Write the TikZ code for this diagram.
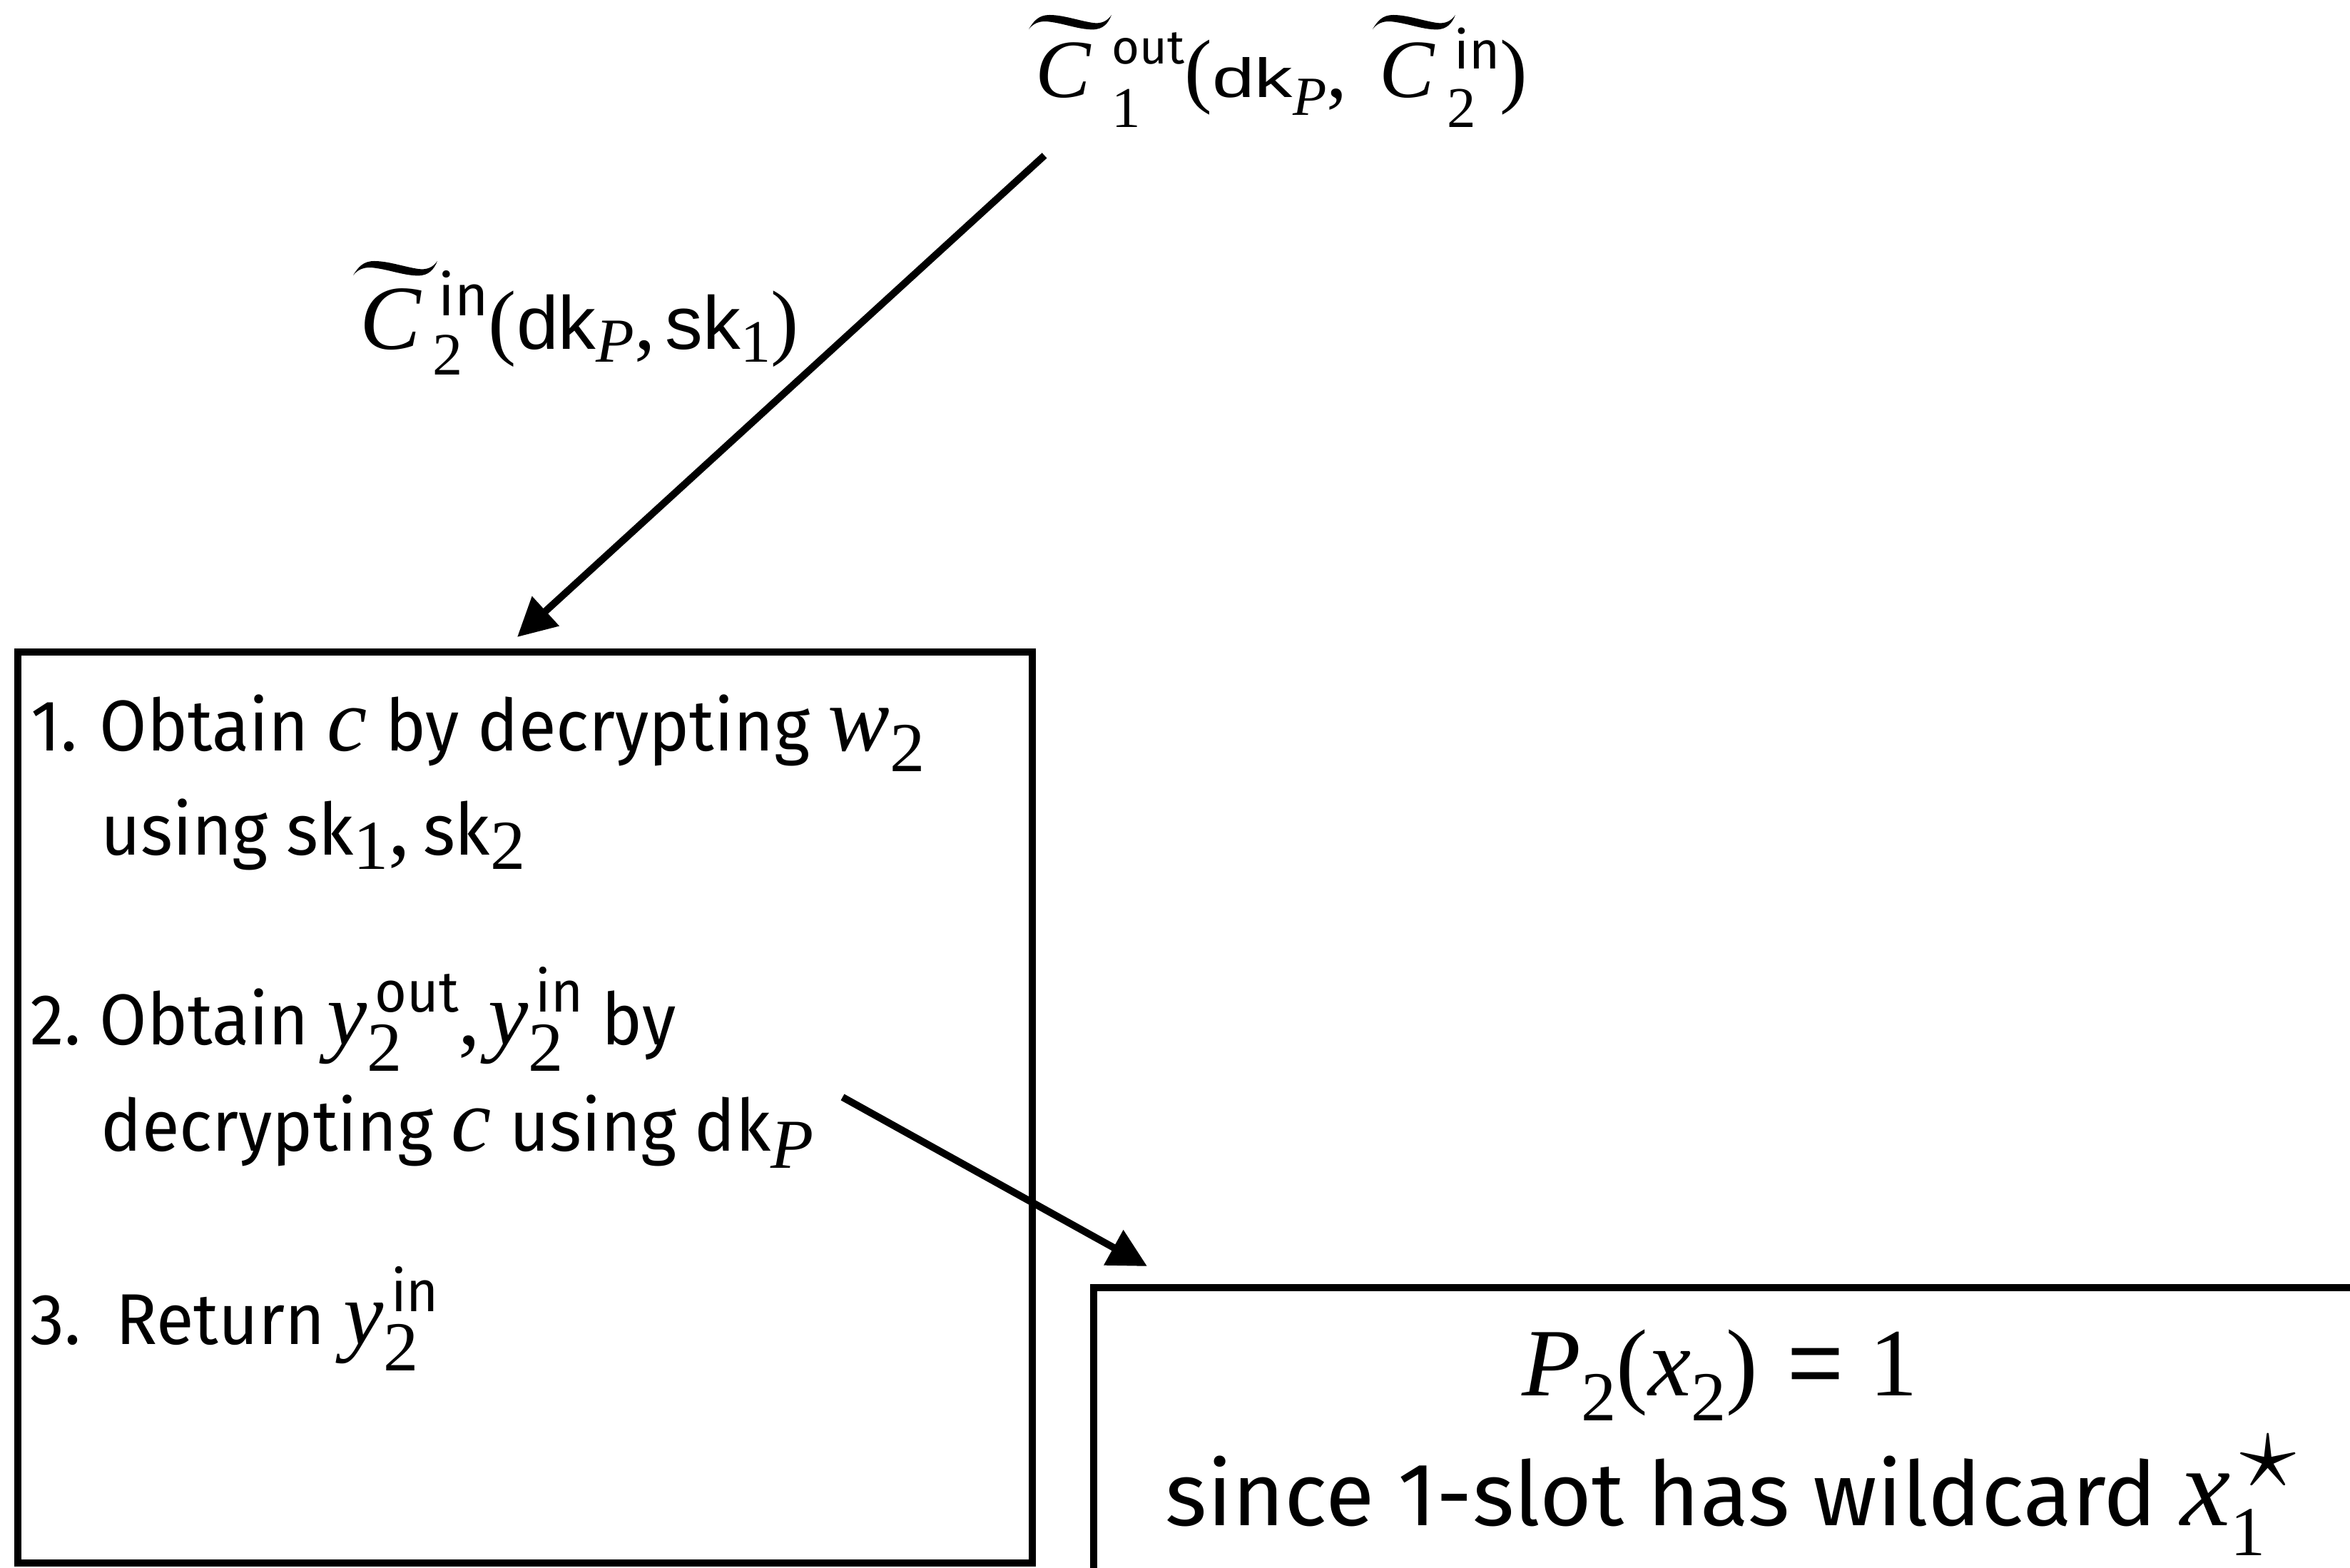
\RequirePackage{fix-cm}
\documentclass[tikz,border=0pt]{standalone}
\usepackage{amsmath}
\usepackage{graphicx}
\usepackage{fontspec}
\setmainfont{Fira Sans}
\newfontfamily\firan{Fira Sans}[FakeStretch=0.953]
\newfontfamily\serf{Liberation Serif}
\newfontfamily\arsans{Liberation Sans}
\usetikzlibrary{arrows.meta,calc}

% glyph helpers: serif italic, serif upright, Arial-like sans, current family, each at a size
\newcommand\ti[2]{{\fontsize{#1}{#1}\serf\itshape #2}}
\newcommand\tr[2]{{\fontsize{#1}{#1}\serf #2}}
\newcommand\ar[2]{{\fontsize{#1}{#1}\arsans #2}}
\newcommand\fr[2]{{\fontsize{#1}{#1}\selectfont #2}}
% lowered subscript
\newcommand\lo[2]{\raisebox{-#1}{#2}}
% stacked scripts: {sup}{raise}{sub}{drop}{shift of sup}
\newcommand\stk[5]{%
  \setbox0\hbox{\kern#5\raisebox{#2}{#1}}%
  \setbox2\hbox{\raisebox{-#4}{#3}}%
  \ifdim\wd0>\wd2 \rlap{\box2}\box0 \else \rlap{\box0}\box2 \fi}

\tikzset{
  txt/.style={inner sep=0pt, anchor=base west},
  boxtxt/.style={txt, font=\fontsize{28.7}{34}\firan},
  restxt/.style={txt, font=\fontsize{35.6}{40}\selectfont},
  frame/.style={draw, line width=1mm, inner sep=0pt, outer sep=0pt},
  link/.style={line width=1mm, -{Triangle[length=0.54cm,width=0.54cm]}},
  % wide tilde accent in a unit box, y pointing up
  wtilde/.pic={
    \fill (0,0.05) .. controls (0.06,0.6) and (0.12,1.0) .. (0.25,1.0)
      .. controls (0.42,1.0) and (0.6,0.62) .. (0.78,0.47)
      .. controls (0.88,0.4) and (0.95,0.6) .. (1,1)
      .. controls (0.96,0.45) and (0.9,0.03) .. (0.77,0.03)
      .. controls (0.6,0.03) and (0.42,0.45) .. (0.23,0.56)
      .. controls (0.12,0.62) and (0.05,0.4) .. (0,0.05) -- cycle;
  }
}
\begin{document}
\begin{tikzpicture}[x=1cm,y=-1cm]
\useasboundingbox (0,0) rectangle (32.94,21.98);
\clip (0,0) rectangle (32.94,21.98);

% boxes
\node[frame, minimum width=14.22cm, minimum height=12.77cm] (lbox) at (7.36,15.525) {};
\node[frame, minimum width=18.67cm, minimum height=4.95cm] (rbox) at (24.665,20.525) {};

% label at the top
\node[txt] (top1) at (14.51,1.37)
  {\makebox[1.07cm][l]{\ti{33}{C}}\stk{\fr{19}{out}}{13.4pt}{\tr{23}{1}}{11.7pt}{0pt}%
   \tr{33}{(}\scalebox{1.38}[1]{\ar{22}{dk}}\lo{7pt}{\ti{22}{P}}\tr{33}{,}};
\node[txt] (top2) at ($(top1.base east)+(0.44,0)$)
  {\makebox[0.95cm][l]{\ti{33}{C}}\stk{\fr{21}{in}}{11.4pt}{\tr{23}{2}}{11.7pt}{0.1cm}\tr{33}{)}};
\pic[xscale=1.16, yscale=-0.21] at ($(top1.base west)+(-0.09,-0.95)$) {wtilde};
\pic[xscale=1.16, yscale=-0.21] at ($(top2.base west)+(-0.09,-0.95)$) {wtilde};

% label on the arrow
\node[txt] (lab) at (5.04,4.90)
  {\makebox[1.02cm][l]{\ti{36.5}{C}}\stk{\fr{23}{in}}{13.6pt}{\tr{24}{2}}{10pt}{0.08cm}%
   \tr{33.5}{(}\ar{30}{dk}\lo{5pt}{\ti{25}{P}}\tr{33.5}{,}\hspace{4pt}%
   \ar{30}{sk}\lo{5pt}{\tr{24}{1}}\tr{33.5}{)}};
\pic[xscale=1.18, yscale=-0.21] at ($(lab.base west)+(-0.09,-1.03)$) {wtilde};

% steps in the left box
\node[boxtxt] (s1) at (0.43,10.52)
  {\makebox[0.96cm][l]{1.}Obtain \ti{36}{c} by decrypting \ti{37}{w}\lo{8.5pt}{\tr{28}{2}}};
\node[boxtxt] (s1b) at (1.41,11.98)
  {using sk\lo{5.7pt}{\tr{28}{1}}\tr{35}{,}\hspace{5pt}sk\lo{5.7pt}{\tr{28}{2}}};
\node[boxtxt] (s2) at (0.42,14.64)
  {\makebox[0.97cm][l]{2.}Obtain \ti{36}{y}\stk{\fr{23}{out}}{13pt}{\tr{28}{2}}{10.8pt}{3pt}%
   \tr{35}{,}\hspace{3pt}\ti{36}{y}\stk{\fr{23}{in}}{13pt}{\tr{28}{2}}{10.8pt}{3pt} by};
\node[boxtxt] (s2b) at (1.41,16.13)
  {decrypting \ti{36}{c} using dk\lo{7pt}{\ti{28}{P}}};
\node[boxtxt] (s3) at (0.42,18.84)
  {\makebox[1.2cm][l]{3.}Return \ti{36}{y}\stk{\fr{23}{in}}{13pt}{\tr{28}{2}}{10.8pt}{3pt}};

% right box text
\node[restxt] (p2) at (21.33,19.56)
  {\ti{38.5}{P}\lo{10pt}{\tr{28}{2}}\tr{38}{(}\ti{38.5}{x}\lo{10pt}{\tr{28}{2}}\tr{38}{)}%
   \hspace{0.42cm}\ar{38.5}{=}\hspace{0.36cm}\tr{38.5}{1}};
\node[restxt] (why) at (16.33,21.38)
  {since 1-slot has wildcard \ti{45}{x}%
   \stk{\fr{45}{$\star$}}{15pt}{\tr{28}{1}}{12pt}{4pt}};

% connectors
\coordinate (a1s) at (14.64,2.18);
\coordinate (a1e) at (7.25,8.93);
\coordinate (a2s) at (11.81,15.38);
\coordinate (a2e) at (16.08,17.75);
\draw[link] (a1s) -- (a1e);
\draw[link] (a2s) -- (a2e);
\end{tikzpicture}
\end{document}
